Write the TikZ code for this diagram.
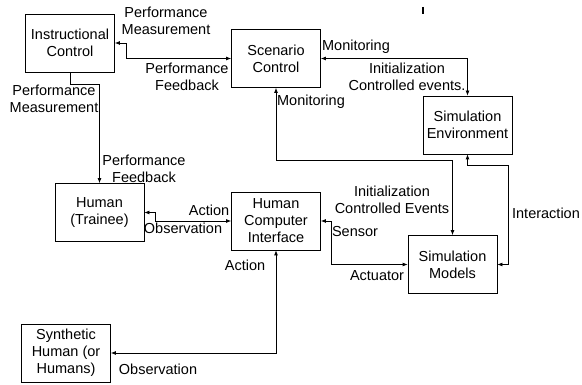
\documentclass[tikz,border=0pt]{standalone}
\usepackage{fontspec}
\setmainfont{Liberation Sans}
\usepackage{tikz}
\usetikzlibrary{arrows.meta}
\tikzset{
>={Latex[length=5pt,width=4pt]}, % small filled arrow heads
every picture/.style={x=1pt, y=-1pt, line width=0.8pt}, % pixel-like coordinates, y going down
block/.style={draw, align=center, minimum width=89pt, minimum height=58pt, inner sep=2pt}, % the boxes
lbl/.style={align=center, inner sep=0pt}, % texts on the connectors
}

\begin{document}
\begin{tikzpicture}[font=\fontsize{14.5}{17}\selectfont]
            \useasboundingbox (0,0) rectangle (582,385);
            \node[block] (ic) at (70,43) {Instructional\\Control};
            \node[block] (sc) at (276,58.5) {Scenario\\Control};
            \node[block] (senv) at (467.5,125) {Simulation\\Environment};
            \node[block] (hum) at (99.5,212.5) {Human\\(Trainee)};
            \node[block] (hci) at (276,221) {Human\\Computer\\Interface};
            \node[block] (smod) at (452.5,264.5) {Simulation\\Models};
            \node[block] (syn) at (66,353) {Synthetic\\Human (or\\Humans)};

            \draw[<->] (ic.east) -- ++(11,0) |- (sc.west);
            \draw[->] (ic.south) -- ++(0,12) -| (hum.north);
            \draw[<->] (sc.east) -| (senv.north);
            \draw[<->] (sc.south) -- ++(0,73) -| (smod.north);
            \draw[<->] (senv.south) -- ++(0,11) -- ++(40.5,0) |- (smod.east);
            \draw[<->] (hum.east) -- ++(11,0) |- (hci.west);
            \draw[<->] (hci.east) -- ++(10,0) |- (smod.west);
            \draw[<->] (hci.south) |- (syn.east);

            \node[lbl] (pm1) at (166,21) {Performance\\Measurement};
            \node[lbl] (pf1) at (187,77) {Performance\\Feedback};
            \node[lbl] (pm2) at (54,99) {Performance\\Measurement};
            \node[lbl] (pf2) at (144,169) {Performance\\Feedback};
            \node[lbl] (mon1) at (356,47) {Monitoring};
            \node[lbl] (ini1) at (407,77) {Initialization\\Controlled events.};
            \node[lbl] (mon2) at (311,102) {Monitoring};
            \node[lbl] (ini2) at (392,199.5) {Initialization\\Controlled Events};
            \node[lbl] (inter) at (546,213) {Interaction};
            \node[lbl] (act1) at (209,210) {Action};
            \node[lbl] (obs1) at (183,228) {Observation};
            \node[lbl] (sens) at (355,232) {Sensor};
            \node[lbl] (actu) at (377,276) {Actuator};
            \node[lbl] (act2) at (245,265) {Action};
            \node[lbl] (obs2) at (158,369) {Observation};

            \draw[line width=1.5pt] (423,7) -- (423,14);
        \end{tikzpicture}
\end{document}
